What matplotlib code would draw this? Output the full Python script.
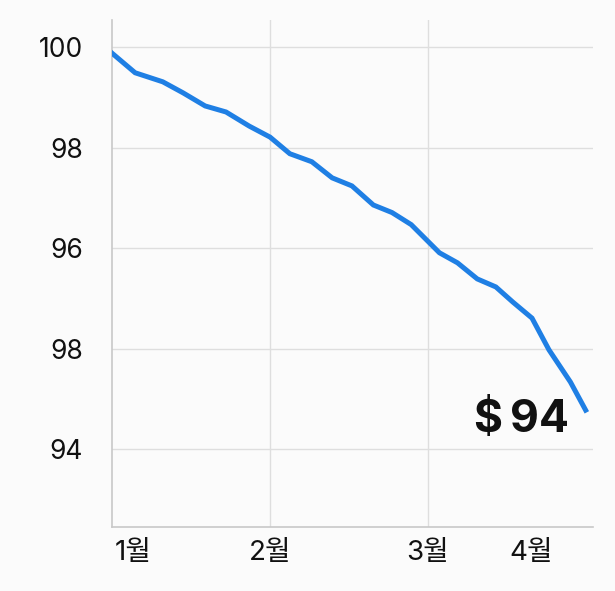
import matplotlib
matplotlib.use("Agg")
import matplotlib.pyplot as plt

plt.rcParams['font.family'] = ['Inter', 'Noto Sans CJK KR', 'DejaVu Sans']

# price series (x in days since start, y in price units)
days = [0, 4.1, 9.0, 12.6, 16.5, 20.2, 24.3, 28.0, 31.5, 35.4, 39.0,
        42.5, 46.3, 49.6, 53.0, 58.0, 61.2, 64.7, 68.0, 71.0, 74.4,
        77.4, 81.2, 83.9]
price = [99.88, 99.49, 99.31, 99.09, 98.83, 98.71, 98.43, 98.21, 97.88,
         97.72, 97.40, 97.24, 96.86, 96.71, 96.47, 95.91, 95.71, 95.39,
         95.23, 94.93, 94.61, 93.98, 93.34, 92.78]

month_pos = [3.7, 28.0, 55.8, 74.2]
month_labels = ['1월', '2월', '3월', '4월']
grid_days = [28.0, 56.0]

y_ticks = [100, 98, 96, 94, 92]
y_labels = ['100', '98', '96', '98', '94']
last_label = '$\u200994'

bg = '#fbfbfb'
blue = '#1f7fe4'

fig = plt.figure(figsize=(6.15, 5.91), dpi=100, facecolor=bg)
ax = fig.add_axes([0.1821, 0.1078, 0.7821, 0.8584], facecolor=bg)

ax.plot(days, price, color=blue, linewidth=3.6, solid_joinstyle='miter', zorder=3)

ax.set_xlim(0, 85.2)
ax.set_ylim(90.45, 100.54)

ax.set_yticks(y_ticks)
ax.set_yticklabels(y_labels)
ax.set_xticks(month_pos)
ax.set_xticklabels(month_labels)
ax.tick_params(axis='both', length=0, labelsize=19, colors='#111111')
ax.tick_params(axis='x', labelsize=20)
ax.tick_params(axis='y', pad=21)
ax.tick_params(axis='x', pad=9)

ax.grid(axis='y', color='#dedede', linewidth=1.0)
for d in grid_days:
    ax.axvline(d, color='#dedede', linewidth=1.0, zorder=1)

for s in ['top', 'right']:
    ax.spines[s].set_visible(False)
for s in ['left', 'bottom']:
    ax.spines[s].set_color('#c8c8c8')
    ax.spines[s].set_linewidth(1.2)

ax.annotate(last_label, xy=(days[-1], price[-1]), xytext=(-12, -15.8),
            textcoords='offset points', ha='right', va='baseline',
            fontsize=32, fontweight='bold', color='#111111')

fig.savefig('out.png', dpi=100, facecolor=bg)
